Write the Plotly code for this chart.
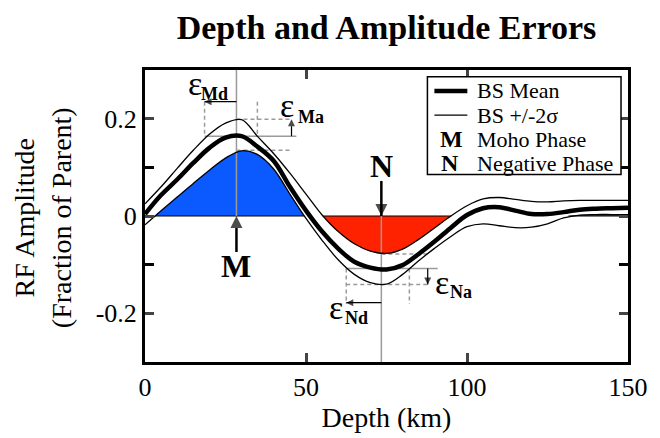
import plotly.graph_objects as go

# ---------------- data ----------------
depth = [0, 5, 10, 15, 20, 25, 30, 35, 40, 45, 50, 55, 60, 65, 70, 75, 80, 85, 90, 95,
         100, 105, 110, 115, 120, 125, 130, 135, 140, 145, 150]
bs_mean = [0.004, 0.043, 0.075, 0.109, 0.140, 0.161, 0.164, 0.142, 0.113, 0.060, 0.011,
           -0.032, -0.067, -0.094, -0.106, -0.110, -0.101, -0.078, -0.052, -0.024,
           0.002, 0.016, 0.018, 0.011, 0.004, 0.004, 0.008, 0.013, 0.015, 0.016, 0.017]
bs_upper = [0.025, 0.060, 0.098, 0.135, 0.168, 0.191, 0.198, 0.163, 0.128, 0.088, 0.045,
            0.002, -0.032, -0.057, -0.072, -0.077, -0.068, -0.048, -0.024, 0.000,
            0.021, 0.035, 0.038, 0.034, 0.030, 0.029, 0.031, 0.032, 0.032, 0.032, 0.032]
bs_lower = [-0.018, 0.011, 0.039, 0.067, 0.094, 0.119, 0.134, 0.126, 0.096, 0.045, -0.005,
            -0.050, -0.090, -0.120, -0.137, -0.140, -0.120, -0.092, -0.066, -0.042,
            -0.022, -0.016, -0.020, -0.024, -0.023, -0.016, -0.004, 0.002, 0.003, 0.003, 0.003]

pos_fill_depth = [3.0, 5, 10, 15, 20, 25, 30, 35, 40, 45, 49.5]
pos_fill_amp = [0.0, 0.011, 0.039, 0.067, 0.094, 0.119, 0.134, 0.126, 0.096, 0.045, 0.0]
tail_fill_depth = [131.5, 135, 140, 145, 150]
tail_fill_amp = [0.0, 0.002, 0.003, 0.003, 0.003]
neg_fill_depth = [55.2, 60, 65, 70, 75, 80, 85, 90, 95.1]
neg_fill_amp = [0.0, -0.032, -0.057, -0.072, -0.077, -0.068, -0.048, -0.024, 0.0]

moho_depth = 28.4
moho_mean, moho_upper, moho_lower = 0.164, 0.199, 0.135
moho_span = [18.5, 34.9]
neg_depth = 73.4
neg_mean, neg_upper, neg_lower = -0.108, -0.078, -0.141
neg_span = [62.5, 82.1]

x_ticks = [0, 50, 100, 150]
y_ticks = [-0.2, 0, 0.2]
y_tick_text = ["-0.2", "0", "0.2"]
y_minor_ticks = [-0.1, 0.1]

BLUE = "#0a5aff"
RED = "#ff2200"
GRAY = "#9a9a9a"
SERIF = "Liberation Serif"

fig = go.Figure()

# fills
for xs, ys, col in [(pos_fill_depth, pos_fill_amp, BLUE),
                    (tail_fill_depth, tail_fill_amp, BLUE),
                    (neg_fill_depth, neg_fill_amp, RED)]:
    fig.add_trace(go.Scatter(x=xs, y=ys, mode="lines", fill="tozeroy", fillcolor=col,
                             line=dict(width=0, shape="spline", color=col),
                             hoverinfo="skip", showlegend=False))
    fig.add_trace(go.Scatter(x=[xs[0], xs[-1]], y=[0, 0], mode="lines",
                             line=dict(width=1, color="black"), showlegend=False))


def seg(x, y, dash=None, color=GRAY, width=1.5):
    fig.add_trace(go.Scatter(x=x, y=y, mode="lines",
                             line=dict(color=color, width=width, dash=dash),
                             hoverinfo="skip", showlegend=False))


# phase reference lines
seg([moho_depth, moho_depth], [0.3, 0])
seg([neg_depth, neg_depth], [0, -0.3])

# Moho error construction
seg([moho_span[0], 47.0], [moho_mean, moho_mean])
seg([moho_depth, 44.9], [moho_upper, moho_upper], dash="4px,3px")
seg([moho_depth, 44.9], [moho_lower, moho_lower], dash="4px,3px")
for xv in moho_span:
    seg([xv, xv], [0.235, moho_mean], dash="4px,3px")

# Negative phase error construction
seg([neg_span[0], 90.9], [neg_mean, neg_mean])
seg([neg_span[0], 87.8], [neg_lower, neg_lower], dash="4px,3px")
seg([neg_depth, 87.8], [neg_upper, neg_upper], dash="4px,3px")
for xv in neg_span:
    seg([xv, xv], [neg_mean, -0.181], dash="4px,3px")

# curves
fig.add_trace(go.Scatter(x=depth, y=bs_upper, mode="lines",
                         line=dict(color="black", width=1.3, shape="spline"), showlegend=False))
fig.add_trace(go.Scatter(x=depth, y=bs_lower, mode="lines",
                         line=dict(color="black", width=1.3, shape="spline"), showlegend=False))
fig.add_trace(go.Scatter(x=depth, y=bs_mean, mode="lines",
                         line=dict(color="black", width=4.5, shape="spline"), showlegend=False))


def arrow(tail, tip, symbol, w=1.2, head=7):
    fig.add_trace(go.Scatter(x=[tail[0], tip[0]], y=[tail[1], tip[1]], mode="lines+markers",
                             line=dict(color="black", width=w),
                             marker=dict(symbol=symbol, size=[0, head], color="black",
                                         line=dict(width=0)),
                             hoverinfo="skip", showlegend=False))


arrow((45.5, moho_mean), (45.5, moho_upper), "arrow-up")
arrow((moho_depth, 0.235), (moho_span[0], 0.235), "arrow-left")
arrow((87.8, neg_mean), (87.8, neg_lower), "arrow-down")
arrow((neg_depth, -0.178), (neg_span[0], -0.178), "arrow-left")
arrow((moho_depth, -0.074), (moho_depth, 0.0), "arrow-up", w=2.5, head=12)
arrow((neg_depth, 0.072), (neg_depth, 0.0), "arrow-down", w=2.5, head=12)

ann = []


def txt(x, y, s, size, xanchor="center", xref="x", yref="y", bold=False):
    ann.append(dict(x=x, y=y, xref=xref, yref=yref, text=(f"<b>{s}</b>" if bold else s),
                    showarrow=False, xanchor=xanchor, yanchor="middle",
                    font=dict(family=SERIF, size=size, color="black")))


# paper helpers (plot area: x 145..629, y 70..372 px)
def px(p):
    return (p - 145) / 484


def py(p):
    return (372 - p) / 302


txt(moho_depth, -0.102, "M", 32, bold=True)
txt(neg_depth, 0.102, "N", 32, bold=True)

# error labels: epsilon + bold subscript
for (ex, ey, sub, sx, sy) in [(195, 84, "Md", 199, 95),
                              (287.5, 106.5, "Ma", 296, 119),
                              (336.5, 315.5, "Nd", 343, 326),
                              (442.5, 289.5, "Na", 449, 300)]:
    txt(px(ex), py(ey), "ε", 34, xref="paper", yref="paper")
    txt(px(sx), py(sy), sub, 18, xanchor="left", xref="paper", yref="paper", bold=True)

# legend (manual)
shapes = [dict(type="rect", xref="paper", yref="paper", x0=px(428), x1=px(622), y0=py(178),
               y1=py(77), line=dict(color="black", width=1.5), fillcolor="white", layer="above"),
          dict(type="line", xref="paper", yref="paper", x0=px(435), x1=px(468), y0=py(91.7),
               y1=py(91.7), line=dict(color="black", width=4.5), layer="above"),
          dict(type="line", xref="paper", yref="paper", x0=px(435), x1=px(468), y0=py(116.7),
               y1=py(116.7), line=dict(color="black", width=1.3), layer="above")]
legend_labels = ["BS Mean", "BS +/-2σ", "Moho Phase", "Negative Phase"]
legend_y = [91.7, 116.7, 141.7, 166.7]
for lab, ly in zip(legend_labels, legend_y):
    txt(px(476), py(ly), lab, 22, xanchor="left", xref="paper", yref="paper")
txt(px(452), py(141.7), "M", 24, xref="paper", yref="paper", bold=True)
txt(px(451), py(166.7), "N", 24, xref="paper", yref="paper", bold=True)

# y axis title
ann.append(dict(x=px(43), y=py(223), xref="paper", yref="paper",
                text="RF Amplitude<br>(Fraction of Parent)", textangle=-90, showarrow=False,
                xanchor="center", yanchor="middle",
                font=dict(family=SERIF, size=28, color="black")))

fig.update_layout(
    width=660, height=438,
    margin=dict(l=145, r=31, t=70, b=66),
    paper_bgcolor="white", plot_bgcolor="white",
    title=dict(text="<b>Depth and Amplitude Errors</b>", x=0.5, xref="paper",
               y=1 - 27 / 438, yref="container", xanchor="center", yanchor="middle",
               font=dict(family=SERIF, size=34, color="black")),
    xaxis=dict(range=[0, 150], tickvals=x_ticks, ticks="inside", ticklen=9, tickwidth=3,
               showline=True, linewidth=3, linecolor="black", mirror="allticks",
               showgrid=False, zeroline=False,
               tickfont=dict(family=SERIF, size=26, color="black"),
               title=dict(text="Depth (km)", font=dict(family=SERIF, size=28, color="black"),
                          standoff=4)),
    yaxis=dict(range=[-0.3, 0.3], tickvals=y_ticks, ticktext=y_tick_text, ticks="inside",
               ticklen=9, tickwidth=3, showline=True, linewidth=3, linecolor="black",
               mirror="allticks", showgrid=False, zeroline=False,
               minor=dict(tickvals=y_minor_ticks, ticks="inside", ticklen=9, tickwidth=3,
                          tickcolor="black"),
               tickfont=dict(family=SERIF, size=26, color="black")),
    annotations=ann, shapes=shapes,
)

fig.write_html("out.html")
